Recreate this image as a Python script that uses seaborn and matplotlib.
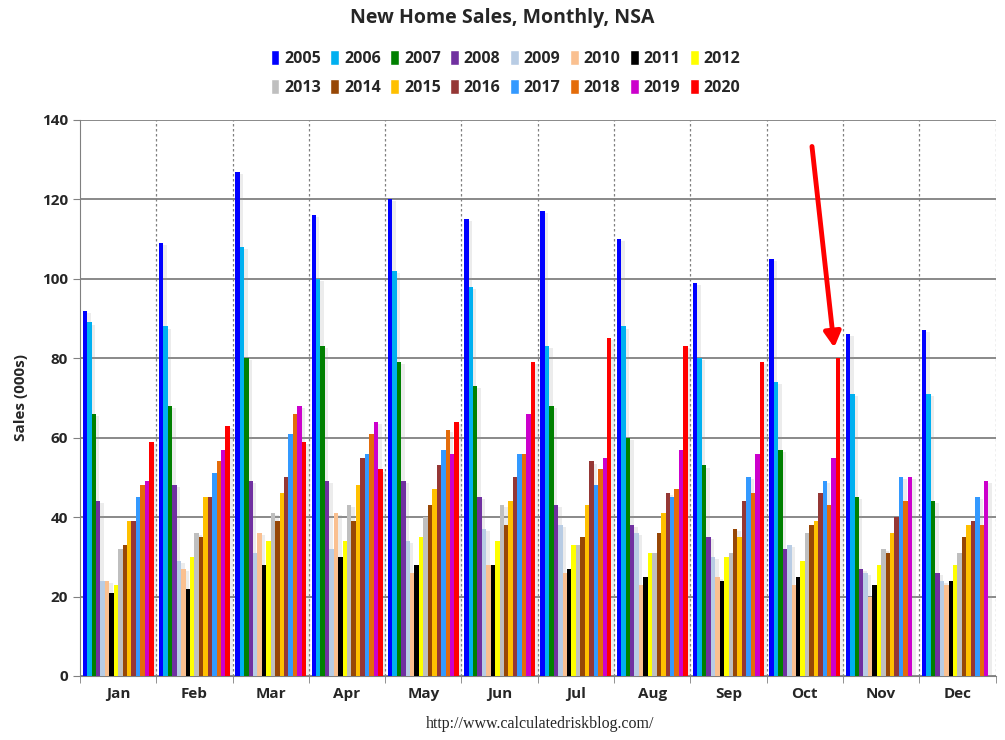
import seaborn as sns
import matplotlib.pyplot as plt
import matplotlib.patheffects as pe
from matplotlib.patches import Patch
import pandas as pd
import numpy as np

months = ['Jan', 'Feb', 'Mar', 'Apr', 'May', 'Jun', 'Jul', 'Aug', 'Sep', 'Oct', 'Nov', 'Dec']
years = ['2005', '2006', '2007', '2008', '2009', '2010', '2011', '2012',
         '2013', '2014', '2015', '2016', '2017', '2018', '2019', '2020']

# monthly sales (000s), not seasonally adjusted
sales_2005 = [92, 109, 127, 116, 120, 115, 117, 110, 99, 105, 86, 87]
sales_2006 = [89, 88, 108, 100, 102, 98, 83, 88, 80, 74, 71, 71]
sales_2007 = [66, 68, 80, 83, 79, 73, 68, 60, 53, 57, 45, 44]
sales_2008 = [44, 48, 49, 49, 49, 45, 43, 38, 35, 32, 27, 26]
sales_2009 = [24, 29, 31, 32, 34, 37, 38, 36, 30, 33, 26, 24]
sales_2010 = [24, 27, 36, 41, 26, 28, 26, 23, 25, 23, 20, 23]
sales_2011 = [21, 22, 28, 30, 28, 28, 27, 25, 24, 25, 23, 24]
sales_2012 = [23, 30, 34, 34, 35, 34, 33, 31, 30, 29, 28, 28]
sales_2013 = [32, 36, 41, 43, 40, 43, 33, 31, 31, 36, 32, 31]
sales_2014 = [33, 35, 39, 39, 43, 38, 35, 36, 37, 38, 31, 35]
sales_2015 = [39, 45, 46, 48, 47, 44, 43, 41, 35, 39, 36, 38]
sales_2016 = [39, 45, 50, 55, 53, 50, 54, 46, 44, 46, 40, 39]
sales_2017 = [45, 51, 61, 56, 57, 56, 48, 45, 50, 49, 50, 45]
sales_2018 = [48, 54, 66, 61, 62, 56, 52, 47, 46, 43, 44, 38]
sales_2019 = [49, 57, 68, 64, 56, 66, 55, 57, 56, 55, 50, 49]
sales_2020 = [59, 63, 59, 52, 64, 79, 85, 83, 79, 80]

colors = ['#0000FF', '#00B0F0', '#008000', '#7030A0', '#B8CCE4', '#FAC090', '#000000', '#FFFF00',
          '#BFBFBF', '#974706', '#FFC000', '#953735', '#3399FF', '#E46C0A', '#CC00CC', '#FF0000']

all_sales = [sales_2005, sales_2006, sales_2007, sales_2008, sales_2009, sales_2010, sales_2011, sales_2012,
             sales_2013, sales_2014, sales_2015, sales_2016, sales_2017, sales_2018, sales_2019, sales_2020]

rows = []
for year, vals in zip(years, all_sales):
    for month, v in zip(months, vals):
        rows.append({'month': month, 'year': year, 'sales': v})
df = pd.DataFrame(rows)

sns.set_style('white')
plt.rcParams['font.family'] = ['Open Sans', 'DejaVu Sans']

fig = plt.figure(figsize=(10.05, 7.40), dpi=100)
ax = fig.add_axes([0.0796, 0.0865, 0.911, 0.7515])

sns.barplot(data=df, x='month', y='sales', hue='year', order=months, hue_order=years,
            palette=colors, width=0.93, saturation=1, legend=False, ax=ax, zorder=3)

# light drop shadow like the original
for bar in ax.patches:
    bar.set_linewidth(0)
    bar.set_path_effects([pe.SimplePatchShadow(offset=(2.5, -1.5), shadow_rgbFace='#999999', alpha=0.18),
                          pe.Normal()])

ax.set_ylim(0, 140)
ax.set_xlim(-0.5, 11.5)
ax.set_yticks(range(0, 141, 20))
ax.yaxis.grid(True, color='#808080', linewidth=1.3, zorder=0)
for b in np.arange(0.5, 11.6, 1):
    ax.axvline(b, color='#808080', linestyle=(0, (2, 2)), linewidth=0.9, zorder=1)

ax.set_xticks(np.arange(-0.5, 11.6, 1), minor=True)
ax.tick_params(axis='x', which='major', length=0, labelsize=11, pad=8)
ax.tick_params(axis='x', which='minor', length=5, color='#808080', direction='out', bottom=True)
ax.tick_params(axis='y', length=5, color='#808080', direction='out', left=True, labelsize=11)
for lab in ax.get_xticklabels() + ax.get_yticklabels():
    lab.set_fontweight('bold')

for side in ['top', 'right']:
    ax.spines[side].set_visible(False)
ax.spines['left'].set_color('#808080')
ax.spines['bottom'].set_color('#808080')

ax.set_xlabel('')
ax.set_ylabel('Sales (000s)', fontsize=11, fontweight='bold', labelpad=10)

fig.text(0.5, 0.975, 'New Home Sales, Monthly, NSA', ha='center', va='center',
         fontsize=14, fontweight='bold')

# legend fills column by column, so interleave the two rows
handles = [Patch(facecolor=c, label=y) for c, y in zip(colors, years)]
ordered = []
for i in range(8):
    ordered += [handles[i], handles[i + 8]]
leg = fig.legend(handles=ordered, ncol=8, loc='upper center', bbox_to_anchor=(0.503, 0.952),
                 frameon=False, handlelength=0.55, handleheight=1.1, handletextpad=0.3,
                 columnspacing=0.6, labelspacing=0.75, prop={'weight': 'bold', 'size': 11.5})

# red arrow pointing to Oct 2020
ax.annotate('', xy=(9.39, 82), xytext=(9.09, 134),
            arrowprops=dict(arrowstyle='-|>,head_width=0.5,head_length=0.9', color='#FF0000', lw=3.5),
            zorder=5)

fig.text(0.537, 0.022, 'http://www.calculatedriskblog.com/', ha='center', va='center',
         fontsize=11.5, family=['Liberation Serif', 'DejaVu Serif'])

plt.savefig('out.png', dpi=100)
